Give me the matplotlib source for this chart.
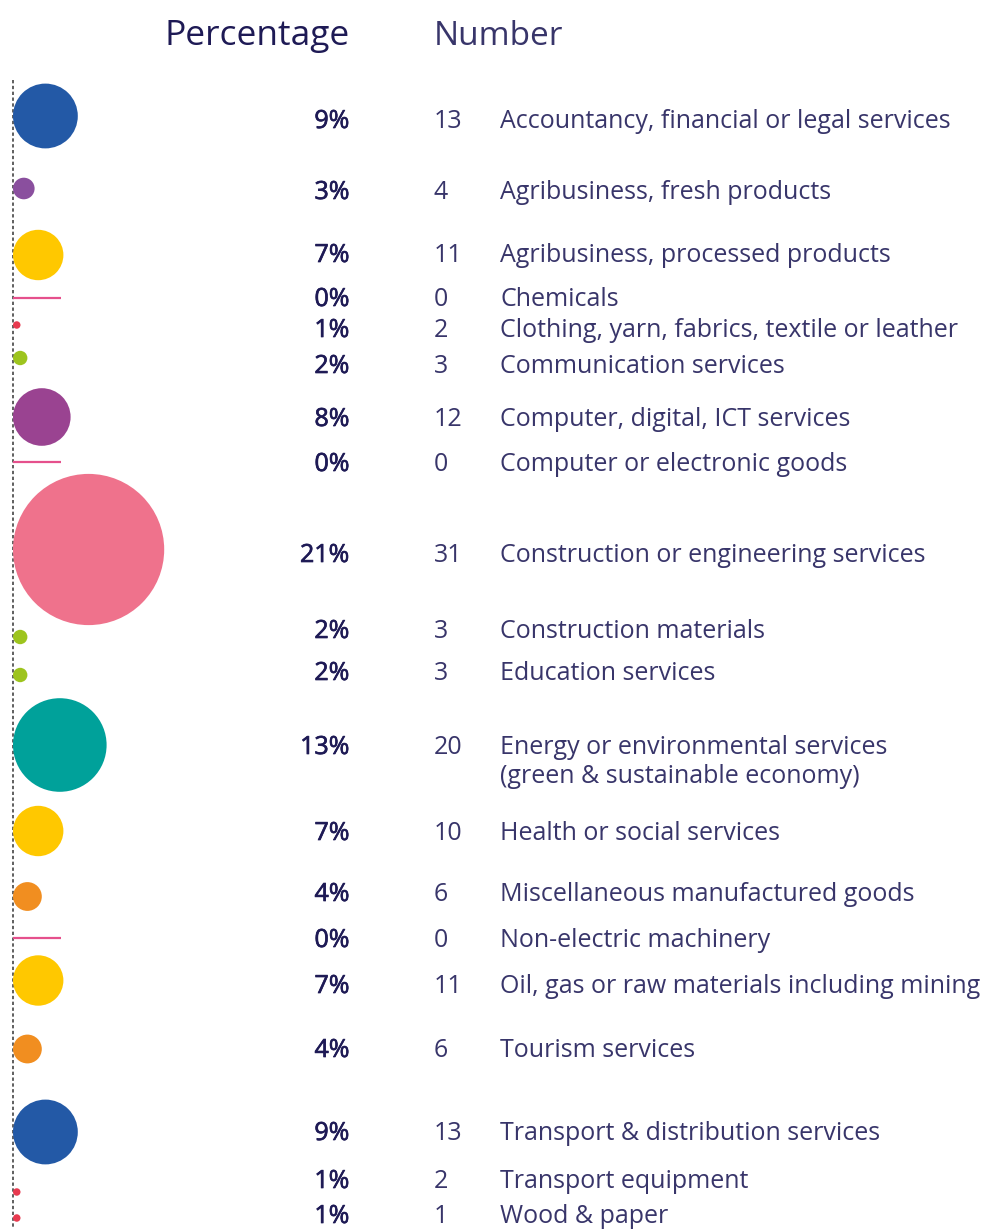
import matplotlib
matplotlib.use("Agg")
import matplotlib.pyplot as plt
import matplotlib.patheffects as pe
from matplotlib.patches import Circle

# ---------------- data ----------------
categories = [
    "Accountancy, financial or legal services",
    "Agribusiness, fresh products",
    "Agribusiness, processed products",
    "Chemicals",
    "Clothing, yarn, fabrics, textile or leather",
    "Communication services",
    "Computer, digital, ICT services",
    "Computer or electronic goods",
    "Construction or engineering services",
    "Construction materials",
    "Education services",
    "Energy or environmental services\n(green & sustainable economy)",
    "Health or social services",
    "Miscellaneous manufactured goods",
    "Non-electric machinery",
    "Oil, gas or raw materials including mining",
    "Tourism services",
    "Transport & distribution services",
    "Transport equipment",
    "Wood & paper",
]
percentages = [9, 3, 7, 0, 1, 2, 8, 0, 21, 2, 2, 13, 7, 4, 0, 7, 4, 9, 1, 1]
numbers = [13, 4, 11, 0, 2, 3, 12, 0, 31, 3, 3, 20, 10, 6, 0, 11, 6, 13, 2, 1]

# ---------------- layout / style ----------------
W, H, DPI = 992, 1229, 100
text_baseline = [128, 199, 262, 306, 337, 373, 426, 471, 562, 638, 680,
                 754, 840, 901, 947, 993, 1057, 1140, 1188, 1223]
mark_y = [116, 188.5, 255, 298, 325, 358, 417, 462, 549.5, 637, 675,
          745, 831, 896.5, 938, 980.5, 1049, 1132, 1192, 1218]
line_step = 29
px_per_pct = 7.2
min_diam = 7.5
x_axis_line = 12.5
pct_colors = {0: "#E5508C", 1: "#E83A50", 2: "#9DC41E", 3: "#8A4F9E",
              4: "#F18E20", 7: "#FFC800", 8: "#9A4391", 9: "#2359A6",
              13: "#00A19A", 21: "#EF728C"}
navy = "#1E1A55"
navy_light = "#38356A"
font = "Open Sans"
fs = 18

fig = plt.figure(figsize=(W / DPI, H / DPI), dpi=DPI)
ax = fig.add_axes([0, 0, 1, 1])
ax.set_xlim(0, W)
ax.set_ylim(H, 0)
ax.axis("off")

# dotted axis line
ax.plot([x_axis_line, x_axis_line], [80, H], color="#444444", lw=1.2,
        ls=(0, (2, 1.5)), zorder=1)

pct_effect = [pe.withStroke(linewidth=0.5, foreground=navy)]

for cat, pct, num, ty, my in zip(categories, percentages, numbers,
                                  text_baseline, mark_y):
    col = pct_colors[pct]
    if pct == 0:
        ax.plot([x_axis_line, 61], [my, my], color=col, lw=1.6,
                solid_capstyle="butt", zorder=2)
    else:
        d = max(pct * px_per_pct, min_diam)
        r = d / 2
        ax.add_patch(Circle((13 + r, my), r, facecolor=col,
                            edgecolor="none", zorder=3))
    ax.text(349.5, ty, f"{pct}%", ha="right", va="baseline", fontsize=fs,
            family=font, weight="medium", color=navy,
            path_effects=pct_effect)
    ax.text(434, ty, f"{num}", ha="left", va="baseline", fontsize=fs,
            family=font, weight="normal", color=navy_light)
    for k, line in enumerate(cat.split("\n")):
        ax.text(500, ty + k * line_step, line, ha="left", va="baseline",
                fontsize=fs, family=font, weight="normal", color=navy_light)

# headers
ax.text(349.5, 45, "Percentage", ha="right", va="baseline", fontsize=25.5,
        family=font, weight="normal", color=navy)
ax.text(434, 45, "Number", ha="left", va="baseline", fontsize=24,
        family=font, weight="normal", color=navy_light)

fig.savefig("out.png", dpi=DPI)
